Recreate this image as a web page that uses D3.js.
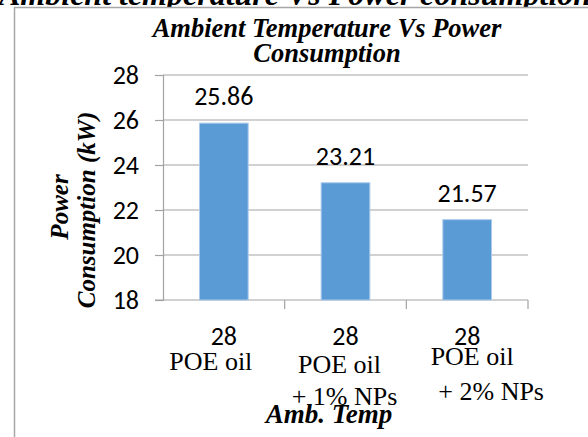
<!DOCTYPE html>
<html>
<head>
<meta charset="utf-8">
<script src="https://cdn.jsdelivr.net/npm/d3@7"></script>
<style>
  body { margin: 0; background: #fff; }
  svg { display: block; }
</style>
</head>
<body>
<div id="chart"></div>
<script>
// chart data
var categories = ["POE oil", "POE oil + 1% NPs", "POE oil + 2% NPs"];
var temps = ["28", "28", "28"];
var power = [25.86, 23.21, 21.57];
var labelLines = [["POE oil"], ["POE oil", "+ 1% NPs"], ["POE oil", "+ 2% NPs"]];
var yTicks = [18, 20, 22, 24, 26, 28];

var pageTitle = "Ambient temperature Vs Power consumption";
var chartTitle = ["Ambient Temperature Vs Power", "Consumption"];
var yTitle = ["Power", "Consumption (kW)"];
var xTitle = "Amb. Temp";

// layout
var W = 588, H = 437;
var plot = {left: 163, right: 528, top: 75, bottom: 300};
var sans = "Carlito, Calibri, 'Open Sans', sans-serif";
var serif = "'Liberation Serif', 'Times New Roman', serif";
var gridColor = "#a3a3a3";

// offsets of the wrapped category lines (dx from band centre, baseline y)
var lineLayout = [
  [{dx: -13, y: 370}],
  [{dx: -6, y: 373}, {dx: -1, y: 405}],
  [{dx: 5, y: 365}, {dx: 24, y: 400}]
];

var svg = d3.select("#chart")
  .append("svg")
    .attr("width", W)
    .attr("height", H);

svg.append("rect")
    .attr("width", W)
    .attr("height", H)
    .attr("fill", "#fff");

// page heading cut off at the top
svg.append("text")
    .attr("x", -1)
    .attr("y", 5)
    .attr("font-family", serif)
    .attr("font-weight", "bold")
    .attr("font-style", "italic")
    .attr("font-size", 32)
    .text(pageTitle);

// chart area border
svg.append("rect")
    .attr("x", 14.5)
    .attr("y", 7.5)
    .attr("width", 700)
    .attr("height", 500)
    .attr("fill", "#fff")
    .attr("stroke", "#a6a6a6")
    .attr("stroke-width", 1.5);

var x = d3.scaleBand()
    .domain(categories)
    .range([plot.left, plot.right])
    .padding(0);

var y = d3.scaleLinear()
    .domain([18, 28])
    .range([plot.bottom, plot.top]);

// gridlines
svg.append("g")
  .selectAll("line")
  .data(yTicks.filter(function(d) { return d > 18; }))
  .enter().append("line")
    .attr("x1", plot.left)
    .attr("x2", plot.right)
    .attr("y1", function(d) { return y(d); })
    .attr("y2", function(d) { return y(d); })
    .attr("stroke", gridColor)
    .attr("stroke-width", 1.2);

// y axis
var yAxis = svg.append("g")
    .attr("transform", "translate(" + plot.left + ",0)")
    .call(d3.axisLeft(y).tickValues(yTicks).tickSize(8).tickPadding(16));
yAxis.select(".domain").attr("stroke", gridColor).attr("stroke-width", 1.2);
yAxis.selectAll(".tick line").attr("stroke", gridColor).attr("stroke-width", 1.2);
yAxis.selectAll(".tick text")
    .attr("font-family", sans)
    .attr("font-size", 26)
    .attr("fill", "#000")
    .attr("dy", "0.33em");

// x axis line and category boundary ticks
svg.append("line")
    .attr("x1", plot.left - 8)
    .attr("x2", plot.right)
    .attr("y1", plot.bottom)
    .attr("y2", plot.bottom)
    .attr("stroke", gridColor)
    .attr("stroke-width", 1.2);

svg.append("g")
  .selectAll("line")
  .data(categories)
  .enter().append("line")
    .attr("x1", function(d) { return x(d) + x.bandwidth(); })
    .attr("x2", function(d) { return x(d) + x.bandwidth(); })
    .attr("y1", plot.bottom)
    .attr("y2", plot.bottom + 9)
    .attr("stroke", gridColor)
    .attr("stroke-width", 1.2);

// bars
var barW = x.bandwidth() * 0.4;
svg.append("g")
  .selectAll("rect")
  .data(power)
  .enter().append("rect")
    .attr("x", function(d, i) { return x(categories[i]) + x.bandwidth() / 2 - barW / 2; })
    .attr("y", function(d) { return y(d); })
    .attr("width", barW)
    .attr("height", function(d) { return y(18) - y(d); })
    .attr("fill", "#5b9bd5")
    .attr("stroke", "#a9c9ec")
    .attr("stroke-width", 1);

// value labels
svg.append("g")
  .selectAll("text")
  .data(power)
  .enter().append("text")
    .attr("x", function(d, i) { return x(categories[i]) + x.bandwidth() / 2; })
    .attr("y", function(d) { return y(d) - 18; })
    .attr("text-anchor", "middle")
    .attr("font-family", sans)
    .attr("font-size", 26)
    .text(function(d) { return d.toFixed(2); });

// category labels: temperature line then wrapped oil name
categories.forEach(function(c, i) {
  var cx = x(c) + x.bandwidth() / 2;
  svg.append("text")
      .attr("x", cx)
      .attr("y", 345)
      .attr("text-anchor", "middle")
      .attr("font-family", sans)
      .attr("font-size", 26)
      .text(temps[i]);
  labelLines[i].forEach(function(line, j) {
    svg.append("text")
        .attr("x", cx + lineLayout[i][j].dx)
        .attr("y", lineLayout[i][j].y)
        .attr("text-anchor", "middle")
        .attr("font-family", serif)
        .attr("font-size", 26)
        .text(line);
  });
});

// chart title
svg.append("g")
  .selectAll("text")
  .data(chartTitle)
  .enter().append("text")
    .attr("x", 327)
    .attr("y", function(d, i) { return 37 + i * 25; })
    .attr("text-anchor", "middle")
    .attr("font-family", serif)
    .attr("font-weight", "bold")
    .attr("font-style", "italic")
    .attr("font-size", 26.5)
    .text(function(d) { return d; });

// axis titles
svg.append("text")
    .attr("x", 329)
    .attr("y", 423)
    .attr("text-anchor", "middle")
    .attr("font-family", serif)
    .attr("font-weight", "bold")
    .attr("font-style", "italic")
    .attr("font-size", 27)
    .text(xTitle);

var yTitlePos = [{x: 68, y: 207}, {x: 95, y: 210}];
svg.append("g")
  .selectAll("text")
  .data(yTitle)
  .enter().append("text")
    .attr("transform", function(d, i) {
      return "translate(" + yTitlePos[i].x + "," + yTitlePos[i].y + ") rotate(-90)";
    })
    .attr("text-anchor", "middle")
    .attr("font-family", serif)
    .attr("font-weight", "bold")
    .attr("font-style", "italic")
    .attr("font-size", 25)
    .text(function(d) { return d; });
</script>
</body>
</html>
